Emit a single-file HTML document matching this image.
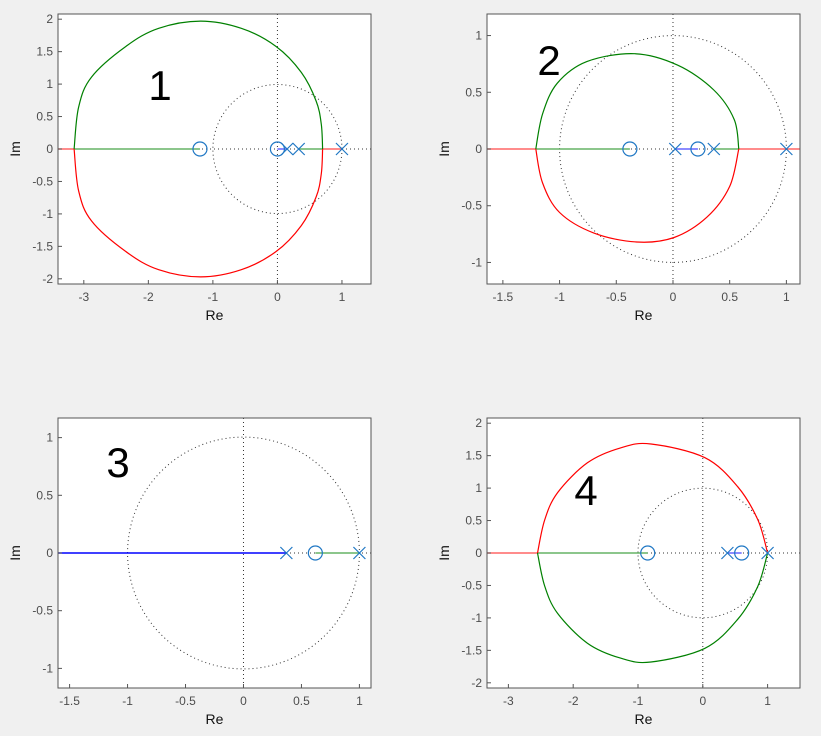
<!DOCTYPE html>
<html><head><meta charset="utf-8"><style>
body{margin:0;background:#f0f0f0;}
svg{display:block;font-family:"Liberation Sans","DejaVu Sans",sans-serif;}
</style></head><body>
<svg id="fig" width="821" height="736"></svg>
<script>
// ---- data ----
const p1Ticks={x:[-3,-2,-1,0,1],y:[-2,-1.5,-1,-0.5,0,0.5,1,1.5,2]};
const p1Poles=[0.15,0.33,1];
const p1Zeros=[-1.2,0];
const p1UpperRe=[-3.15,-3.08,-2.88,-2.35,-1.84,-1.19,-0.56,-0.02,0.37,0.6,0.68,0.7];
const p1UpperIm=[0,0.65,1.11,1.58,1.86,1.97,1.86,1.58,1.18,0.74,0.38,0];
const p2Ticks={x:[-1.5,-1,-0.5,0,0.5,1],y:[-1,-0.5,0,0.5,1]};
const p2Poles=[0.02,0.36,1];
const p2Zeros=[-0.38,0.22];
const p2UpperRe=[-1.21,-1.15,-1.02,-0.76,-0.34,0.04,0.36,0.54,0.58];
const p2UpperIm=[0,0.31,0.58,0.77,0.84,0.74,0.52,0.26,0];
const p2LowerRe=[-1.21,-1.15,-1.0,-0.70,-0.32,0.01,0.3,0.5,0.58];
const p2LowerIm=[0,-0.30,-0.56,-0.74,-0.82,-0.78,-0.6,-0.33,0];
const p3Ticks={x:[-1.5,-1,-0.5,0,0.5,1],y:[-1,-0.5,0,0.5,1]};
const p3Poles=[0.37,1];
const p3Zeros=[0.62];
const p4Ticks={x:[-3,-2,-1,0,1],y:[-2,-1.5,-1,-0.5,0,0.5,1,1.5,2]};
const p4Poles=[0.38,1];
const p4Zeros=[-0.85,0.6];
const p4UpperRe=[-2.55,-2.44,-2.24,-1.78,-1.27,-0.80,0.03,0.54,0.85,1.0];
const p4UpperIm=[0,0.51,0.93,1.39,1.62,1.68,1.47,1.02,0.51,0];

const NS="http://www.w3.org/2000/svg";
const fig=document.getElementById('fig');
function el(t,a,parent){const e=document.createElementNS(NS,t);for(const k in a)e.setAttribute(k,a[k]);(parent||fig).appendChild(e);return e;}
function smooth(pts){
  let d='M'+pts[0][0].toFixed(1)+','+pts[0][1].toFixed(1);
  for(let i=0;i<pts.length-1;i++){
    const p0=pts[Math.max(0,i-1)],p1=pts[i],p2=pts[i+1],p3=pts[Math.min(pts.length-1,i+2)];
    const c1=[p1[0]+(p2[0]-p0[0])/6,p1[1]+(p2[1]-p0[1])/6];
    const c2=[p2[0]-(p3[0]-p1[0])/6,p2[1]-(p3[1]-p1[1])/6];
    d+=`C${c1[0].toFixed(1)},${c1[1].toFixed(1)} ${c2[0].toFixed(1)},${c2[1].toFixed(1)} ${p2[0].toFixed(1)},${p2[1].toFixed(1)}`;
  }
  return d;
}

function panel(cfg){
  const g=el('g',{});
  
  
  const {x0,y0,w,h,xmin,xmax,ymin,ymax}=cfg;
  const X=v=>x0+(v-xmin)/(xmax-xmin)*w;
  const Y=v=>y0+h-(v-ymin)/(ymax-ymin)*h;
  const bg=el('rect',{x:x0,y:y0,width:w,height:h,fill:'#fff'},g);
  
  const uc=el('circle',{cx:X(0),cy:Y(0),r:X(1)-X(0),fill:'none',stroke:'#333','stroke-width':1,'stroke-dasharray':'1 3'},g);
  
  el('line',{x1:X(0),x2:X(0),y1:y0,y2:y0+h,stroke:'#333','stroke-dasharray':'1 3'},g);
  el('line',{x1:x0,x2:x0+w,y1:Y(0),y2:Y(0),stroke:'#333','stroke-dasharray':'1 3'},g);
  function seg(a,b,c,nm){const l=el('line',{x1:X(a),x2:X(b),y1:Y(0),y2:Y(0),stroke:c,'stroke-width':1.5},g);
    }
  cfg.segs.forEach(s=>seg(s[0],s[1],s[2],'real-axis-branch'));
  function curve(re,im,c,sign,nm){
    const pts=re.map((r,i)=>[X(r),Y(sign*im[i])]);
    const p=el('path',{d:smooth(pts),fill:'none',stroke:c,'stroke-width':1.2,'stroke-linejoin':'round'},g);
    }
  (cfg.curves||[]).forEach(c=>curve(c[0],c[1],c[2],c[3],c[4]));
  cfg.zeros.forEach(z=>{const c=el('circle',{cx:X(z),cy:Y(0),r:7,fill:'none',stroke:'#1f77c4','stroke-width':1.2},g);
    });
  cfg.poles.forEach(p=>{const px=X(p),py=Y(0);
    const m=el('path',{d:`M${px-6},${py-6}L${px+6},${py+6}M${px-6},${py+6}L${px+6},${py-6}`,stroke:'#1f77c4','stroke-width':1.2},g);
    });
  el('rect',{x:x0,y:y0,width:w,height:h,fill:'none',stroke:'#555','stroke-width':1},g);
  cfg.ticks.x.forEach(t=>{const px=X(t);el('line',{x1:px,x2:px,y1:y0+h,y2:y0+h-4,stroke:'#555'},g);
    const tx=el('text',{x:px,y:y0+h+17,'text-anchor':'middle','font-size':12,fill:'#4d4d4d'},g);tx.textContent=t;
    });
  cfg.ticks.y.forEach(t=>{const py=Y(t);el('line',{x1:x0,x2:x0+4,y1:py,y2:py,stroke:'#555'},g);
    const tx=el('text',{x:x0-5,y:py+4,'text-anchor':'end','font-size':12,fill:'#4d4d4d'},g);tx.textContent=t;
    });
  const xl=el('text',{x:x0+w/2,y:y0+h+36,'text-anchor':'middle','font-size':14,fill:'#111'},g);xl.textContent='Re';
  
  const yl=el('text',{x:0,y:0,'text-anchor':'middle','font-size':14,fill:'#111',transform:`translate(${x0-38},${y0+h/2}) rotate(-90)`},g);yl.textContent='Im';
  
  const nt=el('text',{x:cfg.num[0],y:cfg.num[1],'text-anchor':'middle','font-size':42,fill:'#000'},g);nt.textContent=cfg.label;
  
}
const R='#ff0000',G='#008000',B='#0000ff',LG='#66b366',LR='#ff6666',LB='#6666ff';
panel({name:'panel-1',label:'1',num:[160,100],x0:58,y0:14,w:313,h:270,xmin:-3.4,xmax:1.45,ymin:-2.08,ymax:2.08,
  ticks:p1Ticks,poles:p1Poles,zeros:p1Zeros,
  segs:[[-3.4,-3.15,LR],[-3.15,-1.2,LG],[0,0.15,LB],[0.33,0.7,LG],[0.7,1,LR]],
  curves:[[p1UpperRe,p1UpperIm,G,1,'upper-branch'],[p1UpperRe,p1UpperIm,R,-1,'lower-branch']]});
panel({name:'panel-2',label:'2',num:[549,75],x0:487,y0:14,w:313,h:270,xmin:-1.64,xmax:1.12,ymin:-1.19,ymax:1.19,
  ticks:p2Ticks,poles:p2Poles,zeros:p2Zeros,
  segs:[[-1.64,-1.21,LR],[-1.21,-0.38,LG],[0.02,0.22,LB],[0.36,0.58,LG],[0.58,1.12,LR]],
  curves:[[p2UpperRe,p2UpperIm,G,1,'upper-branch'],[p2LowerRe,p2LowerIm,R,1,'lower-branch']]});
panel({name:'panel-3',label:'3',num:[118,477],x0:58,y0:418,w:313,h:270,xmin:-1.6,xmax:1.1,ymin:-1.17,ymax:1.17,
  ticks:p3Ticks,poles:p3Poles,zeros:p3Zeros,
  segs:[[-1.6,0.37,B],[0.62,1,LG]],curves:[]});
panel({name:'panel-4',label:'4',num:[586,505],x0:487,y0:418,w:313,h:270,xmin:-3.33,xmax:1.5,ymin:-2.08,ymax:2.08,
  ticks:p4Ticks,poles:p4Poles,zeros:p4Zeros,
  segs:[[-3.33,-2.55,LR],[-2.55,-0.85,LG],[0.38,0.6,LB]],
  curves:[[p4UpperRe,p4UpperIm,R,1,'upper-branch'],[p4UpperRe,p4UpperIm,G,-1,'lower-branch']]});
</script>
</body></html>
